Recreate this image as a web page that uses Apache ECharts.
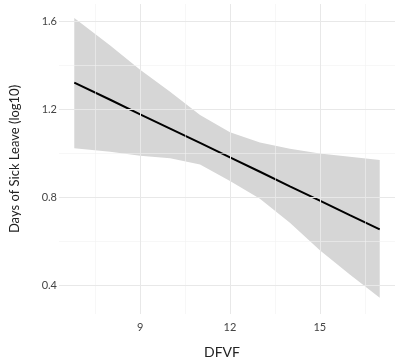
<!DOCTYPE html>
<html><head><meta charset="utf-8">
<script src="https://cdn.jsdelivr.net/npm/echarts@6/dist/echarts.min.js"></script>
<style>html,body{margin:0;padding:0;background:#fff}#c{width:400px;height:364px}</style>
</head><body><div id="c"></div>
<script>
const dfvf  = [6.8, 8, 9, 10, 11, 12, 13, 14, 15, 16, 17];
const fit   = [1.322, 1.244, 1.178, 1.113, 1.048, 0.982, 0.917, 0.851, 0.786, 0.720, 0.655];
const upper = [1.615, 1.49, 1.38, 1.28, 1.175, 1.096, 1.05, 1.022, 1.00, 0.985, 0.97];
const lower = [1.024, 1.008, 0.99, 0.978, 0.95, 0.875, 0.795, 0.685, 0.56, 0.45, 0.345];
const xTicks = [9, 12, 15];
const xMinor = [7.5, 10.5, 13.5, 16.5];
const yTicks = [0.4, 0.8, 1.2, 1.6];
const yMinor = [0.6, 1.0, 1.4];

const font = 'Lato, "Open Sans", sans-serif';
const chart = echarts.init(document.getElementById('c'), null, {renderer: 'canvas'});

const gridLines = [];
const minorStyle = {color: '#f1f1f1', width: 0.6, type: 'solid'};
const majorStyle = {color: '#e8e8e8', width: 1, type: 'solid'};
xMinor.forEach(v => gridLines.push({xAxis: v, lineStyle: minorStyle}));
yMinor.forEach(v => gridLines.push({yAxis: v, lineStyle: minorStyle}));
xTicks.forEach(v => gridLines.push({xAxis: v, lineStyle: majorStyle}));
yTicks.forEach(v => gridLines.push({yAxis: v, lineStyle: majorStyle}));

chart.setOption({
  animation: false,
  grid: {left: 46, right: 5, top: 4, bottom: 43},
  xAxis: {
    type: 'value', min: 6.29, max: 17.51,
    name: 'DFVF', nameLocation: 'middle', nameGap: 31,
    nameTextStyle: {fontFamily: font, fontSize: 14, color: '#222', padding: [0, 10, 0, 0]},
    axisLine: {show: false}, axisTick: {show: false}, splitLine: {show: false},
    axisLabel: {customValues: xTicks, fontFamily: font, fontSize: 11, color: '#444', margin: 8,
      formatter: v => String(v)}
  },
  yAxis: {
    type: 'value', min: 0.271, max: 1.679,
    name: 'Days of Sick Leave (log10)', nameLocation: 'middle', nameGap: 38, nameRotate: 90,
    nameTextStyle: {fontFamily: font, fontSize: 13, color: '#222'},
    axisLine: {show: false}, axisTick: {show: false}, splitLine: {show: false},
    axisLabel: {customValues: yTicks, fontFamily: font, fontSize: 11, color: '#444', margin: 2,
      formatter: v => v.toFixed(1)}
  },
  series: [
    {
      type: 'line', data: [], silent: true,
      markLine: {silent: true, symbol: 'none', label: {show: false}, data: gridLines, animation: false}
    },
    {
      type: 'custom', silent: true, data: [[0]],
      renderItem: (params, api) => {
        const pts = [];
        for (let i = 0; i < dfvf.length; i++) pts.push(api.coord([dfvf[i], upper[i]]));
        for (let i = dfvf.length - 1; i >= 0; i--) pts.push(api.coord([dfvf[i], lower[i]]));
        return {type: 'polygon', shape: {points: pts}, style: {fill: '#d6d6d6'}};
      },
      z: 3
    },
    {
      type: 'line', data: dfvf.map((x, i) => [x, fit[i]]), showSymbol: false,
      lineStyle: {color: '#000', width: 2}, z: 4, silent: true
    }
  ]
});
</script></body></html>
